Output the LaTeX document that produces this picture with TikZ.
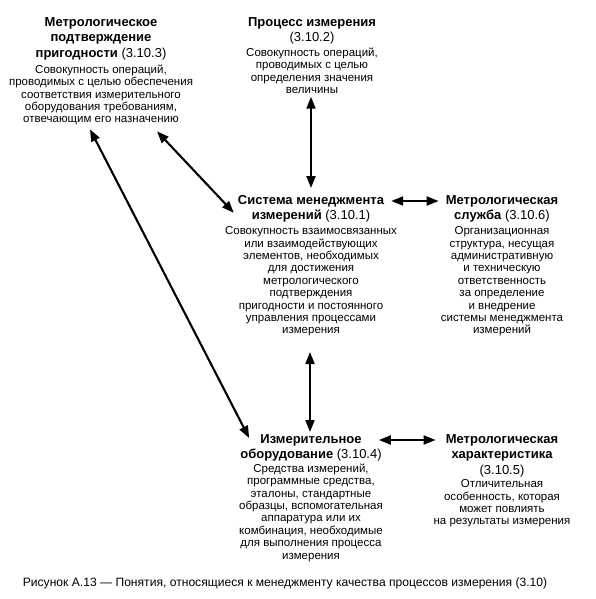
\documentclass[tikz,border=0pt]{standalone}
\usepackage{fontspec}
\setmainfont{Liberation Sans}
\usetikzlibrary{arrows.meta,calc}
\newcommand{\ttlfont}{\fontsize{13}{15.5}\selectfont\bfseries}
\newcommand{\dscfont}{\fontsize{11.5}{12.4}\selectfont}
\begin{document}
\begin{tikzpicture}[x=1pt,y=-1pt,
  ttl/.style={font=\ttlfont, align=center, inner sep=0pt, anchor=north},
  dsc/.style={font=\dscfont, align=center, inner sep=0pt, anchor=north},
  link/.style={{Triangle[length=12pt,width=9pt]}-{Triangle[length=12pt,width=9pt]}, line width=2.1pt}]
\useasboundingbox (0,0) rectangle (596,599);
\fill[white] (0,0) rectangle (596,599);
\node[ttl] (confT) at (101,17) {Метрологическое\\подтверждение\\пригодности {\mdseries(3.10.3)}};
\node[dsc] (confD) at (101,64.5) {Совокупность операций,\\проводимых с целью обеспечения\\соответствия измерительного\\оборудования требованиям,\\отвечающим его назначению};
\node[ttl] (procT) at (312,17) {Процесс измерения\\{\mdseries(3.10.2)}};
\node[dsc] (procD) at (312,47.5) {Совокупность операций,\\проводимых с целью\\определения значения\\величины};
\node[ttl] (sysT) at (311,195) {Система менеджмента\\измерений {\mdseries(3.10.1)}};
\node[dsc] (sysD) at (311,226.5) {Совокупность взаимосвязанных\\или взаимодействующих\\элементов, необходимых\\для достижения\\метрологического\\подтверждения\\пригодности и постоянного\\управления процессами\\измерения};
\node[ttl] (servT) at (502,195) {Метрологическая\\служба {\mdseries(3.10.6)}};
\node[dsc] (servD) at (502,226.5) {Организационная\\структура, несущая\\административную\\и техническую\\ответственность\\за определение\\и внедрение\\системы менеджмента\\измерений};
\node[ttl] (eqT) at (311,434) {Измерительное\\оборудование {\mdseries(3.10.4)}};
\node[dsc] (eqD) at (311,463.5) {Средства измерений,\\программные средства,\\эталоны, стандартные\\образцы, вспомогательная\\аппаратура или их\\комбинация, необходимые\\для выполнения процесса\\измерения};
\node[ttl] (chT) at (502,434) {Метрологическая\\характеристика\\{\mdseries(3.10.5)}};
\node[dsc] (chD) at (502,479.5) {Отличительная\\особенность, которая\\может повлиять\\на результаты измерения};
\node[font=\fontsize{12.1}{14}\selectfont, inner sep=0pt] (cap) at (285,583) {Рисунок А.13 — Понятия, относящиеся к менеджменту качества процессов измерения (3.10)};
\draw[link] ($(procD.south)+(-1,3)$) -- ($(sysT.north)+(0,-7)$);
\draw[link] ($(sysD.south)+(-1,15.5)$) -- ($(eqT.north)+(-1,-2)$);
\draw[link] ($(sysT.north east)+(7,6)$) -- ($(servT.north west)+(-7,6)$);
\draw[link] ($(confD.south)+(56,6)$) -- ($(sysT.west)+(-4,4)$);
\draw[link] ($(confD.south)+(-11,4)$) -- ($(eqT.north west)+(9,4)$);
\draw[link] ($(eqT.north east)+(-3,6)$) -- ($(chT.north west)+(-10,6)$);
\end{tikzpicture}
\end{document}
